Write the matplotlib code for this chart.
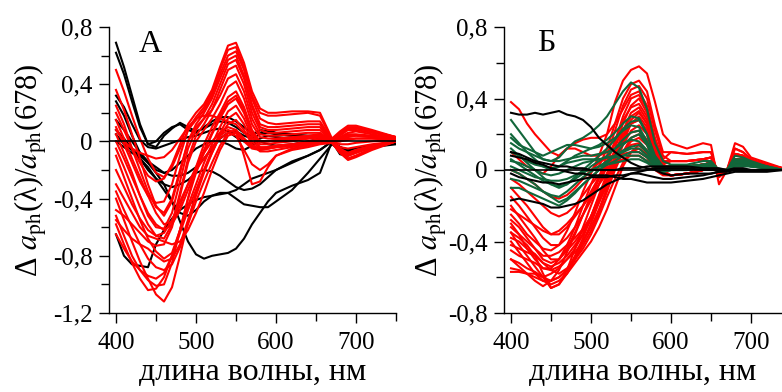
import matplotlib
matplotlib.use("Agg")
import matplotlib.pyplot as plt
from matplotlib.ticker import MultipleLocator, FuncFormatter

plt.rcParams['font.family'] = ['Liberation Serif', 'DejaVu Serif']
plt.rcParams['mathtext.fontset'] = 'stix'

# ---------------- Panel A data ----------------
wl_a = [400, 410, 420, 430, 440, 450, 460, 470, 480, 490, 500, 510, 520, 530, 540, 550, 560, 570, 580, 590,
        600, 620, 640, 655, 670, 680, 690, 700, 720, 750]

a_red = [
    [0.20, 0.08, -0.05, -0.15, -0.24, -0.28, -0.26, -0.16, -0.02, 0.12, 0.20, 0.26, 0.36, 0.52, 0.67, 0.69, 0.55, 0.35, 0.23, 0.20, 0.20, 0.21, 0.21, 0.20, 0.02, 0.07, 0.11, 0.11, 0.08, 0.03],
    [0.10, -0.02, -0.15, -0.28, -0.38, -0.43, -0.42, -0.30, -0.10, 0.08, 0.17, 0.24, 0.34, 0.50, 0.64, 0.66, 0.52, 0.32, 0.20, 0.18, 0.18, 0.19, 0.20, 0.18, 0.01, 0.06, 0.10, 0.10, 0.07, 0.03],
    [0.50, 0.35, 0.18, 0.02, -0.12, -0.22, -0.25, -0.18, -0.05, 0.08, 0.15, 0.22, 0.32, 0.47, 0.60, 0.63, 0.50, 0.30, 0.16, 0.13, 0.12, 0.13, 0.14, 0.14, 0.01, 0.05, 0.09, 0.09, 0.07, 0.03],
    [0.36, 0.22, 0.05, -0.12, -0.30, -0.45, -0.52, -0.42, -0.22, 0.00, 0.12, 0.20, 0.30, 0.44, 0.57, 0.60, 0.46, 0.26, 0.12, 0.10, 0.10, 0.11, 0.12, 0.12, 0.00, 0.04, 0.08, 0.08, 0.06, 0.03],
    [0.05, -0.08, -0.22, -0.38, -0.52, -0.60, -0.61, -0.50, -0.28, -0.05, 0.08, 0.16, 0.26, 0.40, 0.54, 0.57, 0.44, 0.24, 0.10, 0.08, 0.08, 0.09, 0.10, 0.10, 0.00, 0.03, 0.06, 0.07, 0.05, 0.02],
    [-0.05, -0.18, -0.32, -0.46, -0.58, -0.66, -0.68, -0.58, -0.36, -0.12, 0.04, 0.12, 0.22, 0.36, 0.50, 0.53, 0.40, 0.20, 0.08, 0.06, 0.06, 0.07, 0.08, 0.08, 0.00, 0.02, 0.05, 0.05, 0.04, 0.02],
    [0.25, 0.12, -0.05, -0.20, -0.35, -0.46, -0.50, -0.40, -0.20, 0.00, 0.10, 0.16, 0.22, 0.32, 0.44, 0.47, 0.35, 0.16, 0.05, 0.04, 0.04, 0.05, 0.06, 0.06, 0.00, 0.01, 0.03, 0.04, 0.03, 0.02],
    [-0.48, -0.52, -0.58, -0.64, -0.70, -0.73, -0.72, -0.60, -0.38, -0.15, 0.00, 0.08, 0.16, 0.26, 0.38, 0.42, 0.30, 0.12, 0.03, 0.02, 0.02, 0.03, 0.04, 0.05, 0.00, 0.00, 0.01, 0.02, 0.02, 0.01],
    [-0.10, -0.25, -0.40, -0.55, -0.68, -0.77, -0.82, -0.78, -0.62, -0.40, -0.18, -0.02, 0.10, 0.20, 0.31, 0.35, 0.24, 0.08, 0.00, 0.00, 0.01, 0.02, 0.03, 0.04, 0.00, -0.02, -0.02, -0.01, 0.00, 0.01],
    [-0.52, -0.66, -0.80, -0.90, -0.97, -1.01, -1.00, -0.85, -0.62, -0.40, -0.22, -0.08, 0.05, 0.16, 0.26, 0.30, 0.20, 0.05, -0.02, -0.02, -0.01, 0.00, 0.02, 0.03, 0.00, -0.04, -0.05, -0.04, -0.02, 0.00],
    [-0.58, -0.72, -0.85, -0.96, -1.04, -1.03, -0.95, -0.80, -0.62, -0.45, -0.30, -0.15, -0.02, 0.10, 0.21, 0.25, 0.16, 0.03, -0.04, -0.04, -0.03, -0.02, 0.00, 0.02, 0.00, -0.06, -0.08, -0.06, -0.03, 0.00],
    [-0.40, -0.55, -0.70, -0.84, -0.96, -1.07, -1.12, -1.02, -0.80, -0.56, -0.36, -0.20, -0.06, 0.06, 0.16, 0.20, 0.12, 0.00, -0.05, -0.05, -0.04, -0.03, -0.01, 0.01, -0.01, -0.07, -0.10, -0.08, -0.04, 0.00],
    [-0.65, -0.75, -0.84, -0.90, -0.94, -0.96, -0.92, -0.80, -0.64, -0.48, -0.34, -0.20, -0.08, 0.04, 0.12, 0.15, 0.08, -0.02, -0.07, -0.07, -0.06, -0.04, -0.02, 0.00, -0.01, -0.08, -0.12, -0.10, -0.05, 0.00],
    [0.15, 0.02, -0.12, -0.25, -0.38, -0.50, -0.58, -0.56, -0.45, -0.30, -0.18, -0.08, 0.00, 0.06, 0.10, 0.08, -0.10, -0.30, -0.28, -0.18, -0.10, -0.06, -0.04, -0.02, -0.01, -0.08, -0.13, -0.11, -0.06, 0.00],
    [-0.20, -0.32, -0.44, -0.54, -0.62, -0.66, -0.64, -0.55, -0.42, -0.30, -0.20, -0.12, -0.04, 0.02, 0.06, 0.04, -0.06, -0.16, -0.20, -0.16, -0.10, -0.05, -0.03, -0.01, -0.01, -0.07, -0.12, -0.10, -0.05, 0.00],
    [0.08, 0.00, -0.05, -0.08, -0.10, -0.12, -0.11, -0.06, 0.02, 0.10, 0.16, 0.18, 0.18, 0.16, 0.14, 0.12, 0.06, 0.02, 0.00, 0.00, 0.00, 0.01, 0.02, 0.03, 0.00, 0.02, 0.04, 0.04, 0.03, 0.02],
    [-0.30, -0.40, -0.50, -0.60, -0.66, -0.68, -0.70, -0.72, -0.70, -0.62, -0.50, -0.36, -0.20, -0.06, 0.04, 0.06, 0.02, -0.03, -0.05, -0.04, -0.03, -0.02, -0.01, 0.00, -0.01, -0.05, -0.08, -0.06, -0.03, 0.00],
    [0.00, -0.12, -0.25, -0.38, -0.50, -0.58, -0.62, -0.58, -0.48, -0.34, -0.20, -0.06, 0.06, 0.18, 0.28, 0.32, 0.22, 0.06, 0.00, 0.00, 0.01, 0.02, 0.03, 0.04, 0.00, 0.00, 0.02, 0.02, 0.02, 0.01],
    [-0.55, -0.62, -0.68, -0.72, -0.75, -0.80, -0.84, -0.82, -0.72, -0.55, -0.38, -0.22, -0.08, 0.04, 0.08, 0.06, 0.00, -0.05, -0.06, -0.05, -0.04, -0.03, -0.02, 0.00, -0.01, -0.06, -0.10, -0.08, -0.04, 0.00],
    [-0.35, -0.48, -0.60, -0.72, -0.82, -0.88, -0.90, -0.86, -0.74, -0.58, -0.42, -0.28, -0.15, -0.03, 0.06, 0.08, 0.02, -0.04, -0.06, -0.05, -0.04, -0.03, -0.02, 0.00, -0.01, -0.06, -0.09, -0.07, -0.04, 0.00],
]

a_black = [
    [0.69, 0.52, 0.32, 0.12, -0.02, 0.00, 0.06, 0.10, 0.12, 0.08, 0.06, 0.10, 0.14, 0.17, 0.17, 0.14, 0.10, 0.06, 0.06, 0.08, 0.06, 0.05, 0.04, 0.04, 0.00, -0.05, -0.07, -0.05, -0.03, -0.01],
    [0.62, 0.47, 0.28, 0.10, -0.02, -0.04, 0.04, 0.09, 0.13, 0.10, 0.07, 0.09, 0.12, 0.14, 0.13, 0.10, 0.06, 0.04, 0.08, 0.07, 0.05, 0.04, 0.03, 0.05, 0.00, -0.04, -0.06, -0.05, -0.03, -0.01],
    [0.32, 0.24, 0.12, 0.01, -0.04, -0.05, -0.03, -0.01, 0.01, 0.03, 0.04, 0.06, 0.08, 0.09, 0.07, 0.03, 0.00, -0.02, 0.02, 0.04, 0.03, 0.02, 0.03, 0.04, 0.00, -0.09, -0.10, -0.07, -0.04, -0.02],
    [0.28, 0.18, 0.04, -0.08, -0.15, -0.20, -0.22, -0.20, -0.15, -0.10, -0.05, -0.02, 0.00, 0.00, -0.02, -0.05, -0.06, -0.03, 0.00, -0.02, -0.03, -0.02, 0.00, 0.02, 0.00, -0.06, -0.06, -0.05, -0.03, -0.01],
    [0.08, 0.02, -0.05, -0.12, -0.20, -0.26, -0.30, -0.32, -0.30, -0.27, -0.22, -0.20, -0.21, -0.24, -0.28, -0.32, -0.34, -0.33, -0.30, -0.25, -0.20, -0.14, -0.10, -0.06, 0.00, -0.05, -0.06, -0.05, -0.03, -0.01],
    [-0.65, -0.80, -0.86, -0.87, -0.88, -0.72, -0.62, -0.54, -0.48, -0.44, -0.41, -0.39, -0.38, -0.37, -0.36, -0.40, -0.44, -0.45, -0.46, -0.46, -0.42, -0.34, -0.22, -0.12, -0.02, -0.06, -0.07, -0.05, -0.03, -0.01],
    [0.05, -0.02, -0.06, -0.10, -0.15, -0.22, -0.30, -0.42, -0.56, -0.70, -0.79, -0.82, -0.80, -0.79, -0.78, -0.75, -0.68, -0.58, -0.50, -0.42, -0.36, -0.31, -0.27, -0.22, 0.00, -0.04, -0.06, -0.05, -0.03, -0.01],
    [0.00, -0.04, -0.08, -0.12, -0.18, -0.26, -0.34, -0.42, -0.50, -0.52, -0.48, -0.42, -0.38, -0.36, -0.36, -0.34, -0.30, -0.26, -0.24, -0.22, -0.20, -0.15, -0.10, -0.06, 0.00, -0.05, -0.06, -0.05, -0.03, -0.01],
    [0.15, 0.08, 0.00, -0.08, -0.14, -0.18, -0.22, -0.24, -0.24, -0.22, -0.18, -0.12, -0.05, 0.02, 0.06, 0.07, 0.04, 0.02, 0.05, 0.06, 0.05, 0.04, 0.03, 0.03, 0.00, -0.05, -0.07, -0.05, -0.03, -0.01],
]

# ---------------- Panel B data ----------------
wl_b = [400, 410, 420, 430, 440, 450, 460, 470, 480, 490, 500, 510, 520, 530, 540, 550, 560, 570, 580, 590,
        600, 620, 640, 650, 660, 670, 680, 690, 700, 720, 740]

b_red = [
    [-0.25, -0.30, -0.36, -0.40, -0.44, -0.45, -0.42, -0.34, -0.24, -0.12, -0.02, 0.08, 0.20, 0.38, 0.50, 0.56, 0.58, 0.54, 0.38, 0.20, 0.15, 0.12, 0.15, 0.14, -0.08, 0.00, 0.15, 0.13, 0.07, 0.04, 0.01],
    [-0.30, -0.36, -0.44, -0.50, -0.55, -0.55, -0.50, -0.42, -0.32, -0.20, -0.08, 0.02, 0.12, 0.26, 0.40, 0.48, 0.50, 0.44, 0.25, 0.10, 0.10, 0.09, 0.10, 0.10, -0.04, 0.00, 0.12, 0.10, 0.06, 0.03, 0.01],
    [-0.40, -0.46, -0.52, -0.58, -0.62, -0.62, -0.56, -0.46, -0.36, -0.25, -0.14, -0.04, 0.08, 0.22, 0.36, 0.45, 0.47, 0.40, 0.22, 0.08, 0.05, 0.05, 0.06, 0.07, -0.02, 0.00, 0.09, 0.08, 0.05, 0.02, 0.01],
    [0.38, 0.34, 0.26, 0.20, 0.15, 0.10, 0.08, 0.12, 0.15, 0.17, 0.18, 0.18, 0.20, 0.26, 0.34, 0.42, 0.44, 0.36, 0.18, 0.06, 0.10, 0.09, 0.10, 0.10, -0.04, 0.00, 0.12, 0.10, 0.06, 0.03, 0.01],
    [-0.35, -0.42, -0.48, -0.54, -0.60, -0.66, -0.64, -0.56, -0.44, -0.32, -0.20, -0.08, 0.04, 0.16, 0.30, 0.40, 0.42, 0.34, 0.16, 0.05, 0.05, 0.05, 0.06, 0.07, -0.02, 0.00, 0.09, 0.08, 0.05, 0.02, 0.01],
    [-0.50, -0.52, -0.55, -0.57, -0.60, -0.62, -0.60, -0.56, -0.48, -0.38, -0.26, -0.14, -0.02, 0.12, 0.26, 0.36, 0.40, 0.32, 0.14, 0.04, 0.05, 0.05, 0.06, 0.07, -0.02, 0.00, 0.09, 0.08, 0.05, 0.02, 0.01],
    [-0.20, -0.26, -0.32, -0.38, -0.45, -0.50, -0.50, -0.44, -0.35, -0.25, -0.15, -0.05, 0.05, 0.16, 0.28, 0.35, 0.37, 0.30, 0.12, 0.03, 0.05, 0.05, 0.06, 0.07, -0.02, 0.00, 0.09, 0.08, 0.05, 0.02, 0.01],
    [-0.55, -0.56, -0.58, -0.58, -0.60, -0.58, -0.55, -0.50, -0.44, -0.36, -0.26, -0.15, -0.04, 0.08, 0.22, 0.32, 0.35, 0.28, 0.10, 0.02, 0.02, 0.02, 0.03, 0.04, 0.00, 0.00, 0.06, 0.06, 0.04, 0.02, 0.00],
    [-0.28, -0.32, -0.38, -0.44, -0.50, -0.52, -0.50, -0.45, -0.40, -0.34, -0.26, -0.16, -0.06, 0.06, 0.18, 0.28, 0.32, 0.26, 0.10, 0.02, 0.02, 0.02, 0.03, 0.04, 0.00, 0.00, 0.06, 0.06, 0.04, 0.02, 0.00],
    [-0.45, -0.48, -0.50, -0.52, -0.55, -0.56, -0.54, -0.50, -0.46, -0.40, -0.32, -0.22, -0.10, 0.02, 0.15, 0.26, 0.30, 0.24, 0.08, 0.01, 0.02, 0.02, 0.03, 0.04, 0.00, 0.00, 0.06, 0.06, 0.04, 0.02, 0.00],
    [-0.15, -0.20, -0.26, -0.32, -0.38, -0.42, -0.42, -0.38, -0.32, -0.25, -0.17, -0.08, 0.02, 0.10, 0.20, 0.26, 0.28, 0.22, 0.08, 0.01, 0.02, 0.02, 0.03, 0.04, 0.00, 0.00, 0.06, 0.06, 0.04, 0.02, 0.00],
    [-0.38, -0.40, -0.44, -0.47, -0.52, -0.54, -0.52, -0.48, -0.42, -0.36, -0.28, -0.18, -0.08, 0.04, 0.14, 0.22, 0.25, 0.20, 0.06, 0.00, 0.02, 0.02, 0.03, 0.04, 0.00, 0.00, 0.06, 0.06, 0.04, 0.02, 0.00],
    [-0.10, -0.15, -0.20, -0.26, -0.32, -0.36, -0.36, -0.32, -0.26, -0.20, -0.12, -0.04, 0.04, 0.10, 0.17, 0.21, 0.22, 0.17, 0.05, 0.00, -0.03, -0.02, 0.00, 0.02, 0.00, 0.00, 0.04, 0.04, 0.03, 0.01, 0.00],
    [-0.50, -0.54, -0.58, -0.62, -0.65, -0.62, -0.60, -0.56, -0.50, -0.42, -0.34, -0.24, -0.12, 0.00, 0.10, 0.18, 0.20, 0.15, 0.04, -0.01, -0.03, -0.02, 0.00, 0.02, 0.00, 0.00, 0.04, 0.04, 0.03, 0.01, 0.00],
    [-0.32, -0.36, -0.40, -0.44, -0.48, -0.48, -0.46, -0.42, -0.38, -0.33, -0.26, -0.18, -0.08, 0.02, 0.10, 0.16, 0.18, 0.14, 0.04, -0.01, -0.03, -0.02, 0.00, 0.02, 0.00, 0.00, 0.04, 0.04, 0.03, 0.01, 0.00],
    [-0.22, -0.25, -0.28, -0.31, -0.34, -0.36, -0.34, -0.30, -0.25, -0.20, -0.14, -0.08, -0.02, 0.04, 0.10, 0.14, 0.15, 0.11, 0.03, -0.02, -0.03, -0.02, 0.00, 0.02, 0.00, 0.00, 0.04, 0.04, 0.03, 0.01, 0.00],
    [-0.42, -0.44, -0.46, -0.48, -0.52, -0.56, -0.58, -0.55, -0.50, -0.44, -0.36, -0.26, -0.15, -0.05, 0.04, 0.10, 0.12, 0.09, 0.02, -0.02, -0.03, -0.02, 0.00, 0.02, 0.00, 0.00, 0.04, 0.04, 0.03, 0.01, 0.00],
    [0.00, -0.02, -0.05, -0.08, -0.12, -0.15, -0.16, -0.14, -0.10, -0.05, 0.00, 0.04, 0.07, 0.08, 0.09, 0.10, 0.10, 0.07, 0.01, -0.02, -0.03, -0.02, 0.00, 0.02, 0.00, 0.00, 0.04, 0.04, 0.03, 0.01, 0.00],
    [-0.05, -0.08, -0.12, -0.16, -0.20, -0.24, -0.26, -0.24, -0.20, -0.14, -0.08, -0.03, 0.01, 0.04, 0.06, 0.08, 0.08, 0.05, 0.00, -0.03, -0.03, -0.02, 0.00, 0.02, 0.00, 0.00, 0.04, 0.04, 0.03, 0.01, 0.00],
    [-0.57, -0.57, -0.58, -0.60, -0.62, -0.64, -0.62, -0.58, -0.52, -0.46, -0.40, -0.32, -0.22, -0.10, 0.02, 0.10, 0.14, 0.10, 0.02, -0.02, -0.03, -0.02, 0.00, 0.02, 0.00, 0.00, 0.04, 0.04, 0.03, 0.01, 0.00],
    [0.10, 0.06, 0.02, 0.00, -0.02, 0.02, 0.08, 0.12, 0.12, 0.10, 0.08, 0.08, 0.10, 0.14, 0.22, 0.30, 0.33, 0.26, 0.10, 0.02, 0.02, 0.02, 0.03, 0.04, 0.00, 0.00, 0.06, 0.06, 0.04, 0.02, 0.00],
    [-0.35, -0.38, -0.42, -0.48, -0.58, -0.66, -0.64, -0.58, -0.50, -0.40, -0.30, -0.18, -0.06, 0.06, 0.18, 0.26, 0.28, 0.22, 0.08, 0.01, 0.02, 0.02, 0.03, 0.04, 0.00, 0.00, 0.06, 0.06, 0.04, 0.02, 0.00],
]

b_green = [
    [0.28, 0.22, 0.16, 0.10, 0.06, 0.05, 0.07, 0.12, 0.16, 0.18, 0.21, 0.25, 0.30, 0.37, 0.44, 0.49, 0.46, 0.34, 0.15, 0.05, 0.03, 0.03, 0.05, 0.05, 0.00, 0.00, 0.08, 0.07, 0.05, 0.02, 0.00],
    [0.20, 0.15, 0.10, 0.06, 0.02, 0.00, 0.02, 0.05, 0.08, 0.10, 0.12, 0.14, 0.17, 0.21, 0.26, 0.30, 0.29, 0.20, 0.08, 0.02, 0.02, 0.02, 0.03, 0.04, 0.00, 0.00, 0.06, 0.06, 0.04, 0.02, 0.00],
    [0.12, 0.08, 0.04, 0.00, -0.04, -0.08, -0.10, -0.08, -0.04, 0.00, 0.04, 0.08, 0.12, 0.17, 0.23, 0.27, 0.28, 0.20, 0.07, 0.01, 0.02, 0.02, 0.03, 0.04, 0.00, 0.00, 0.06, 0.05, 0.04, 0.02, 0.00],
    [0.06, 0.03, 0.00, -0.03, -0.06, -0.08, -0.09, -0.08, -0.05, -0.02, 0.02, 0.05, 0.08, 0.12, 0.17, 0.21, 0.22, 0.15, 0.05, 0.00, 0.01, 0.01, 0.02, 0.03, 0.00, 0.00, 0.05, 0.05, 0.03, 0.01, 0.00],
    [0.00, -0.02, -0.05, -0.08, -0.12, -0.15, -0.18, -0.16, -0.12, -0.08, -0.04, 0.00, 0.04, 0.08, 0.14, 0.18, 0.20, 0.14, 0.04, 0.00, 0.01, 0.01, 0.02, 0.03, 0.00, 0.00, 0.05, 0.04, 0.03, 0.01, 0.00],
    [0.15, 0.12, 0.10, 0.08, 0.06, 0.05, 0.05, 0.06, 0.07, 0.08, 0.08, 0.09, 0.10, 0.12, 0.15, 0.17, 0.16, 0.11, 0.04, 0.00, 0.01, 0.01, 0.02, 0.02, 0.00, 0.00, 0.04, 0.04, 0.03, 0.01, 0.00],
    [-0.05, -0.06, -0.08, -0.10, -0.12, -0.14, -0.15, -0.12, -0.08, -0.04, -0.01, 0.02, 0.05, 0.08, 0.11, 0.13, 0.14, 0.10, 0.03, 0.00, 0.00, 0.01, 0.02, 0.02, 0.00, 0.00, 0.04, 0.04, 0.03, 0.01, 0.00],
    [0.05, 0.04, 0.02, 0.00, -0.02, -0.03, -0.02, 0.00, 0.02, 0.04, 0.05, 0.06, 0.07, 0.08, 0.10, 0.12, 0.12, 0.08, 0.02, 0.00, 0.00, 0.01, 0.01, 0.02, 0.00, 0.00, 0.03, 0.03, 0.02, 0.01, 0.00],
    [-0.10, -0.10, -0.12, -0.14, -0.16, -0.18, -0.20, -0.17, -0.13, -0.08, -0.04, 0.00, 0.03, 0.05, 0.08, 0.10, 0.10, 0.07, 0.02, -0.01, 0.00, 0.00, 0.01, 0.02, 0.00, 0.00, 0.03, 0.03, 0.02, 0.01, 0.00],
    [0.10, 0.08, 0.05, 0.03, 0.02, 0.01, 0.02, 0.04, 0.05, 0.06, 0.06, 0.06, 0.07, 0.07, 0.08, 0.08, 0.08, 0.05, 0.01, -0.01, 0.00, 0.00, 0.01, 0.02, 0.00, 0.00, 0.03, 0.03, 0.02, 0.01, 0.00],
    [0.02, 0.00, -0.02, -0.04, -0.05, -0.06, -0.06, -0.05, -0.03, -0.01, 0.00, 0.02, 0.03, 0.04, 0.05, 0.06, 0.06, 0.04, 0.01, -0.01, 0.00, 0.00, 0.01, 0.01, 0.00, 0.00, 0.02, 0.02, 0.02, 0.01, 0.00],
    [0.18, 0.14, 0.12, 0.10, 0.08, 0.10, 0.12, 0.14, 0.14, 0.13, 0.12, 0.13, 0.15, 0.18, 0.22, 0.25, 0.24, 0.16, 0.06, 0.01, 0.02, 0.02, 0.03, 0.03, 0.00, 0.00, 0.05, 0.05, 0.03, 0.01, 0.00],
]

b_black = [
    [0.32, 0.31, 0.31, 0.32, 0.31, 0.32, 0.33, 0.31, 0.30, 0.28, 0.24, 0.18, 0.14, 0.10, 0.07, 0.04, 0.02, 0.01, 0.00, -0.02, -0.03, -0.02, -0.02, -0.02, -0.01, 0.00, 0.01, 0.01, 0.00, 0.00, 0.00],
    [0.08, 0.07, 0.06, 0.04, 0.03, 0.01, 0.00, -0.01, -0.02, -0.02, -0.03, -0.03, -0.03, -0.04, -0.05, -0.05, -0.06, -0.07, -0.07, -0.07, -0.07, -0.06, -0.05, -0.04, -0.03, -0.02, -0.01, -0.01, -0.01, -0.01, 0.00],
    [-0.17, -0.16, -0.17, -0.18, -0.19, -0.21, -0.21, -0.20, -0.19, -0.17, -0.14, -0.11, -0.08, -0.06, -0.04, -0.02, -0.01, 0.00, 0.01, 0.01, 0.01, 0.01, 0.00, 0.00, 0.00, 0.00, 0.00, 0.00, 0.00, 0.00, 0.00],
    [-0.02, -0.04, -0.05, -0.06, -0.07, -0.07, -0.08, -0.07, -0.06, -0.05, -0.04, -0.04, -0.04, -0.03, -0.03, -0.02, -0.02, -0.03, -0.04, -0.05, -0.05, -0.04, -0.03, -0.02, -0.01, -0.01, 0.00, 0.00, 0.00, 0.00, 0.00],
    [0.10, 0.09, 0.07, 0.05, 0.04, 0.03, 0.02, 0.02, 0.01, 0.01, 0.00, 0.00, 0.00, 0.00, 0.01, 0.01, 0.01, 0.02, 0.02, 0.02, 0.02, 0.02, 0.01, 0.01, 0.01, 0.00, 0.00, 0.00, 0.00, 0.00, 0.00],
]

RED = '#ff0000'
GREEN = '#11663a'
BLACK = '#000000'
LW = 1.5

W, H = 782, 392
fig = plt.figure(figsize=(W / 100, H / 100), dpi=100)


def px_axes(x0, y0, x1, y1):
    return fig.add_axes([x0 / W, 1 - y1 / H, (x1 - x0) / W, (y1 - y0) / H])


comma = FuncFormatter(lambda v, p: ('%g' % round(v, 2)).replace('.', ','))
ylab = r"Δ $\mathit{a}_{\mathrm{ph}}$(λ)/$\mathit{a}_{\mathrm{ph}}$(678)"


def style(ax, ylo, yhi, xlo, xhi, ylab_x):
    ax.set_xlim(xlo, xhi)
    ax.set_ylim(ylo, yhi)
    for s in ('top', 'right'):
        ax.spines[s].set_visible(False)
    for s in ('left', 'bottom'):
        ax.spines[s].set_linewidth(1.0)
    ax.xaxis.set_major_locator(MultipleLocator(100))
    ax.xaxis.set_minor_locator(MultipleLocator(50))
    ax.yaxis.set_major_locator(MultipleLocator(0.4))
    ax.yaxis.set_minor_locator(MultipleLocator(0.2))
    ax.yaxis.set_major_formatter(comma)
    ax.tick_params(which='major', direction='out', length=7, width=1.0, labelsize=18, pad=5)
    ax.tick_params(which='minor', direction='out', length=6, width=1.0)
    ax.tick_params(axis='x', which='major', pad=7)
    ax.set_xlabel('длина волны, нм', fontsize=23)
    ax.xaxis.set_label_coords(0.5, -0.157)
    ax.set_ylabel(ylab, fontsize=22)
    ax.yaxis.set_label_coords(ylab_x, 0.5)
    ax.axhline(0, color='black', lw=1.2, zorder=10)


axA = px_axes(109, 27, 396, 313)
for c in a_black:
    axA.plot(wl_a, c, color=BLACK, lw=LW)
for c in a_red:
    axA.plot(wl_a, c, color=RED, lw=LW)
style(axA, -1.2, 0.8, 391.25, 750, (49 - 109) / 287)
axA.text(442.5, 0.68, 'А', fontsize=23, ha='center', va='center')

axB = px_axes(504, 27, 782, 313)
for c in b_red:
    axB.plot(wl_b, c, color=RED, lw=LW)
for c in b_green:
    axB.plot(wl_b, c, color=GREEN, lw=LW)
for c in b_black:
    axB.plot(wl_b, c, color=BLACK, lw=LW)
style(axB, -0.8, 0.8, 391.25, 738.75, (449 - 504) / 278)
axB.text(444, 0.71, 'Б', fontsize=23, ha='center', va='center')

fig.savefig('out.png', dpi=100)
